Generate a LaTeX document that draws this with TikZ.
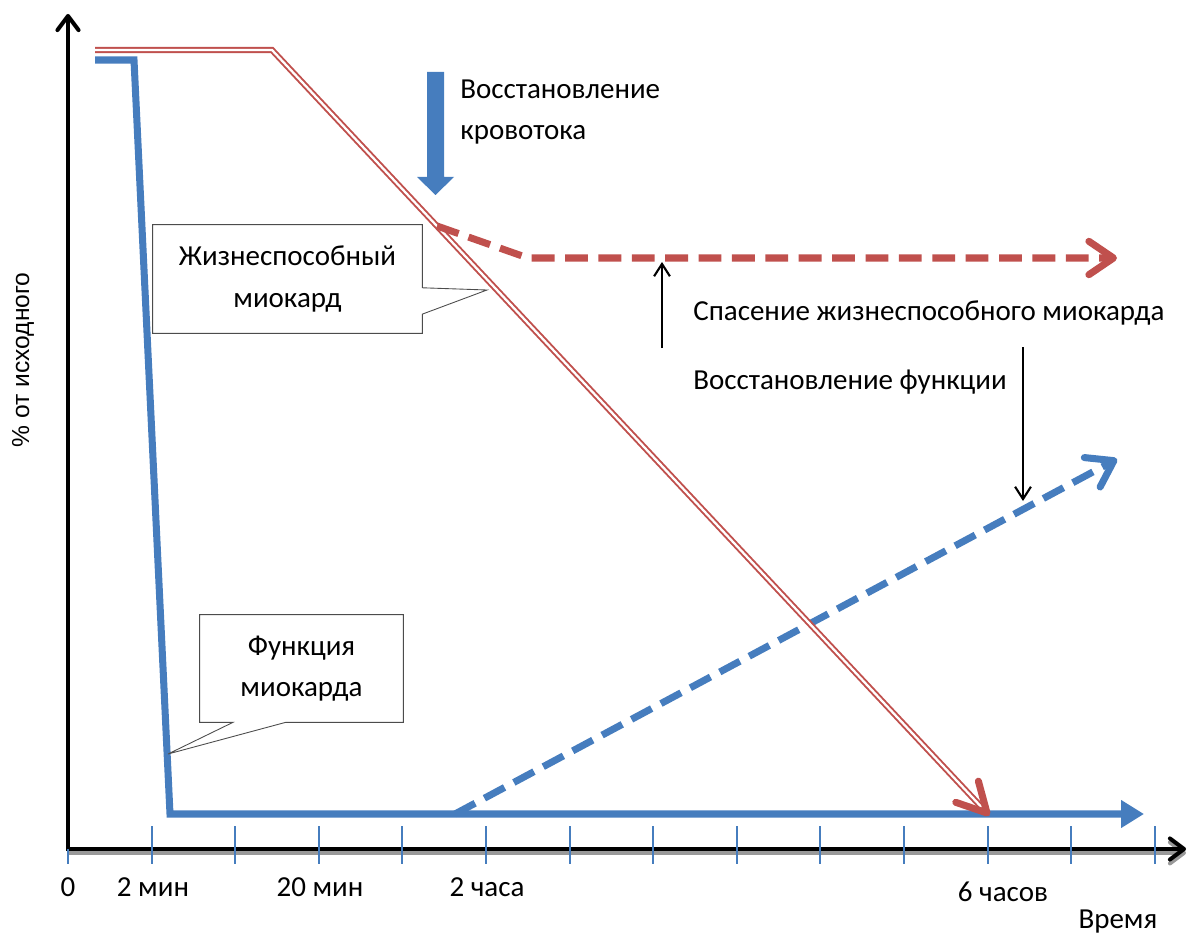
\documentclass[tikz,border=0pt]{standalone}
\usepackage{fontspec}
\setmainfont{Carlito}
\newfontfamily\ylabelfont{Liberation Sans}
\usetikzlibrary{
    arrows.meta,
    calc
}
\definecolor{funcblue}{RGB}{70,125,190}
\definecolor{viablered}{RGB}{192,80,77}
\tikzset {
    every node/.style = {font = \fontsize{16.5}{23.5}\selectfont, inner sep = 0pt},
    axis/.style = {
        line width = 2.3pt, line join = miter,
        {Straight Barb[length = 8pt, width = 12pt, round]}-{Straight Barb[length = 8pt, width = 12pt, round]}
    },
    axis shadow/.style = {
        black!40, line width = 2.3pt, transform canvas = {yshift = -2.2pt},
        -{Straight Barb[length = 8pt, width = 12pt, round]}
    },
    grid tick/.style = {funcblue, line width = 1.1pt},
    func line/.style = {
        funcblue, line width = 4pt, line join = miter,
        -{Triangle[length = 13pt, width = 15pt]}
    },
    func dashed/.style = {
        funcblue, line width = 4pt, dash pattern = on 13pt off 6pt,
        -{Straight Barb[length = 14pt, width = 19pt, round]}
    },
    viable line/.style = {viablered, line width = 1.1pt, double = white, double distance = 1.3pt},
    viable head/.style = {viablered, line width = 4pt, line cap = round, line join = round},
    viable dashed/.style = {
        viablered, line width = 4pt, dash pattern = on 13pt off 6pt,
        -{Straight Barb[length = 14pt, width = 19pt, round]}
    },
    thin arrow/.style = {line width = 1.2pt, -{Straight Barb[length = 7pt, width = 9pt]}},
    flow arrow/.style = {fill = funcblue},
    callout box/.style = {align = center},
    callout line/.style = {draw = black!70, line width = 0.5pt, fill = white},
    time label/.style = {anchor = center}
}

\begin{document}
\begin{tikzpicture}[x = 0.02cm, y = -0.02cm]
    \useasboundingbox (0, 0) rectangle (1191, 936);

    % axes
    \coordinate (origin) at (68, 849);
    \coordinate (ytop) at (68, 14);
    \coordinate (xend) at (1186, 849);
    \draw [axis shadow] (origin) -- (xend);
    \draw [axis] (ytop) -- (origin) -- (xend);
    \draw [grid tick] (origin) -- ++(0, 15);
    \foreach \i in {1, ..., 13}
        \draw [grid tick] (68 + 83.6 * \i, 826) -- (68 + 83.6 * \i, 864);

    \node (t0) [time label] at (68, 887) {0};
    \node (t2m) [time label] at (153, 887) {2 мин};
    \node (t20m) [time label] at (320, 887) {20 мин};
    \node (t2h) [time label] at (487, 887) {2 часа};
    \node (t6h) [time label] at (1003, 892) {6 часов};
    \node (tname) [time label] at (1118, 922) {Время};
    \node (ylabel) [rotate = 90, font = \ylabelfont\fontsize{14}{16}\selectfont] at (23, 360) {\% от исходного};

    % myocardial function
    \coordinate (f0) at (95, 60);
    \coordinate (f1) at (134, 60);
    \coordinate (f2) at (170, 814);
    \coordinate (f3) at (1144, 814);
    \coordinate (g0) at (455, 814);
    \coordinate (g1) at (1117, 459);
    \draw [func line] (f0) -- (f1) -- (f2) -- (f3);
    \draw [func dashed] (g0) -- (g1);

    % viable myocardium
    \coordinate (v0) at (95, 50);
    \coordinate (v1) at (272, 50);
    \coordinate (v2) at (987, 813);
    \coordinate (w0) at (437, 226);
    \coordinate (w1) at (528, 258);
    \coordinate (w2) at (1117, 258);
    \draw [viable line] (v0) -- (v1) -- (v2);
    \draw [viable head] ($(v2)!0.66cm!28:(v1)$) -- (v2) -- ($(v2)!0.66cm!-28:(v1)$);
    \draw [viable dashed] (w0) -- (w1) -- (w2);

    % reperfusion
    \coordinate (flow) at (435.5, 72);
    \fill [flow arrow] (flow) ++(-8.5, 0) -- ++(17, 0) -- ++(0, 105) -- ++(10, 0)
        -- ++(-18.5, 18) -- ++(-18.5, -18) -- ++(10, 0) -- cycle;
    \node (reflow) [anchor = west, align = left] at (460, 112) {Восстановление\\кровотока};

    \coordinate (rescue a) at (662, 348);
    \coordinate (rescue b) at (662, 262);
    \draw [thin arrow] (rescue a) -- (rescue b);
    \node (rescue) [anchor = west] at (693, 313) {Спасение жизнеспособного миокарда};

    \coordinate (recover a) at (1023, 347);
    \coordinate (recover b) at (1023, 501);
    \draw [thin arrow] (recover a) -- (recover b);
    \node (recover) [anchor = west] at (693, 382) {Восстановление функции};

    % callouts
    \node (viable) [callout box, minimum width = 5.38cm, minimum height = 2.16cm] at (287.5, 279) {};
    \coordinate (viable tip) at (487, 290);
    \draw [callout line] (viable.north west) -- (viable.north east) -- ([yshift = -5pt]viable.east)
        -- (viable tip) -- ([yshift = -20pt]viable.east) -- (viable.south east) -- (viable.south west) -- cycle;
    \node [callout box] at (viable) {Жизнеспособный\\миокард};

    \node (func) [callout box, minimum width = 4.06cm, minimum height = 2.14cm] at (301.5, 668.5) {};
    \coordinate (func tip) at (168, 754);
    \draw [callout line] (func.north west) -- (func.north east) -- (func.south east)
        -- ([xshift = -9pt]func.south) -- (func tip) -- ([xshift = -39pt]func.south) -- (func.south west) -- cycle;
    \node [callout box] at (func) {Функция\\миокарда};
\end{tikzpicture}
\end{document}
